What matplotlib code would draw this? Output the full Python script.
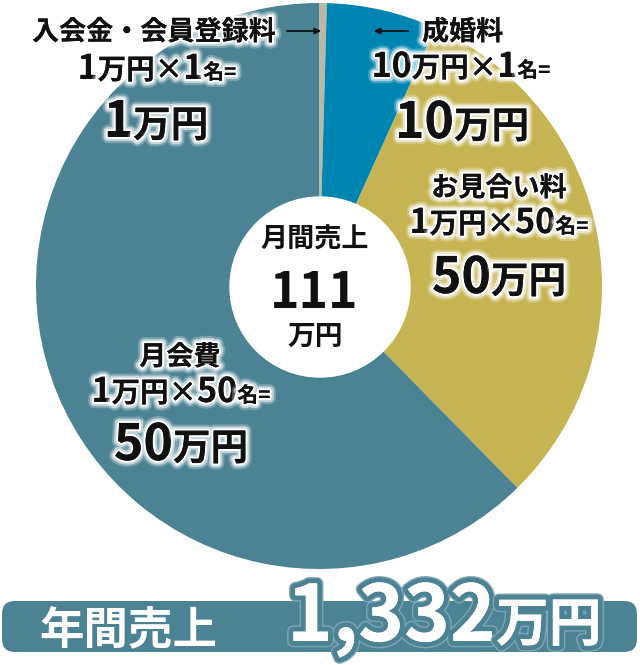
import matplotlib
matplotlib.use("Agg")
import matplotlib.pyplot as plt
import matplotlib.patheffects as pe
from matplotlib.patches import Circle, FancyBboxPatch

plt.rcParams['font.family'] = ['Noto Sans CJK JP', 'DejaVu Sans']

# wedge sizes as drawn in the picture (degrees of the circle)
slice_names = ['入会金・会員登録料', '成婚料', 'お見合い料', '月会費']
slice_sizes = [1.6, 22.7, 111.2, 224.5]
slice_colors = ['#b9b9a6', '#0085b2', '#c6b453', '#4b8294']

# yen amounts (万円)
unit_price = [1, 10, 1, 1]
members = [1, 1, 50, 50]
amounts = [1, 10, 50, 50]
monthly_total = 111
yearly_total = '1,332'

TEAL = '#4b8294'

fig = plt.figure(figsize=(6.4, 6.65), dpi=100)
ax = fig.add_axes([0, 0, 1, 1])
ax.pie(slice_sizes, colors=slice_colors, center=(319, 286), radius=283,
       startangle=-90, counterclock=True, wedgeprops=dict(linewidth=0))
ax.set_xlim(0, 640)
ax.set_ylim(665, 0)
ax.set_aspect('equal')
ax.axis('off')

ax.add_patch(Circle((320, 287), 90, color='white', zorder=3))

glow = [pe.withStroke(linewidth=9, foreground='white', alpha=0.25),
        pe.withStroke(linewidth=6, foreground='white', alpha=0.55),
        pe.withStroke(linewidth=3, foreground='white'),
        pe.Normal()]

renderer = fig.canvas.get_renderer()


def row(parts, x, base, ha='center', color='#111111', effects=None, z=5):
    texts = []
    for s, size in parts:
        t = ax.text(0, base, s, fontsize=size, fontweight='bold', color=color,
                    va='baseline', ha='left', zorder=z, path_effects=effects)
        texts.append(t)
    widths = [t.get_window_extent(renderer).width for t in texts]
    total = sum(widths)
    if ha == 'center':
        x0 = x - total / 2
    elif ha == 'right':
        x0 = x - total
    else:
        x0 = x
    for t, w in zip(texts, widths):
        t.set_x(x0)
        x0 += w


K = 19.5   # kanji label size
D = 24.5   # digits in formula rows
FK = 20.5  # 万円× in formula rows
S = 15     # 名=
BD = 36    # big digits
BK = 27    # big 万円


def formula(price, n, cx, base):
    row([(str(price), D), ('万円×', FK), (str(n), D), ('名=', S)], cx, base, effects=glow)


def amount(v, cx, base):
    row([(str(v), BD), ('万円', BK)], cx, base, effects=glow)


# 入会金・会員登録料
row([(slice_names[0], K)], 32, 40, ha='left', effects=glow)
ax.annotate('', xy=(324, 31), xytext=(284, 31),
            arrowprops=dict(arrowstyle='-|>', lw=1.3, color='#111111', mutation_scale=9), zorder=6)
formula(unit_price[0], members[0], 157, 79)
amount(amounts[0], 156, 137)

# 成婚料
row([(slice_names[1], K)], 422, 40, ha='left', effects=glow)
ax.annotate('', xy=(371, 31), xytext=(411, 31),
            arrowprops=dict(arrowstyle='-|>', lw=1.3, color='#111111', mutation_scale=9), zorder=6)
formula(unit_price[1], members[1], 461, 77)
amount(amounts[1], 462, 138)

# お見合い料
row([(slice_names[2], K)], 499, 196, effects=glow)
formula(unit_price[2], members[2], 499, 233)
amount(amounts[2], 499, 293)

# 月会費
row([(slice_names[3], K)], 180, 365, effects=glow)
formula(unit_price[3], members[3], 181, 402)
amount(amounts[3], 181, 460)

# centre
row([('月間売上', 19.5)], 315, 248, z=6)
row([(str(monthly_total), 36)], 314, 308, z=6)
row([('万円', 20)], 315, 345, z=6)

# yearly banner
ax.add_patch(FancyBboxPatch((2, 601), 635, 51, boxstyle='round,pad=0,rounding_size=13',
                            facecolor=TEAL, edgecolor='none', zorder=4))
row([('年間売上', 32)], 128, 643, color='white', z=6)
outline = [pe.withStroke(linewidth=9, foreground='#7fa6b4'),
           pe.withStroke(linewidth=7, foreground=TEAL), pe.Normal()]
row([(yearly_total, 56), ('万円', 38)], 287, 641, ha='left', color='white',
    effects=outline, z=6)

fig.savefig('out.png', dpi=100)
